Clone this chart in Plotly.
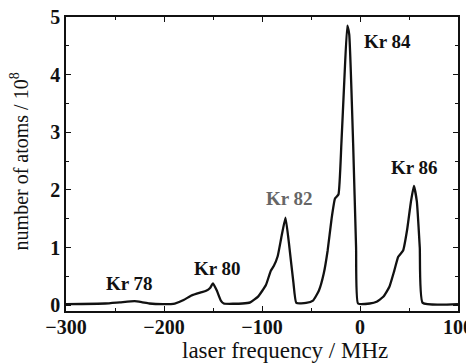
import plotly.graph_objects as go

freq = [-300, -260, -245, -230, -222, -215, -200, -189, -180, -172, -163, -157, -153, -150,
        -146, -142, -139, -120, -112, -104, -96, -91, -88, -84, -80, -76, -72, -68, -65,
        -55, -48, -42, -37, -33, -29, -25.5, -22, -19, -16, -13, -11, -7, -4, -2,
        10, 17, 24, 30, 35, 39, 44, 48, 52, 55, 58, 61, 64, 100]
atoms = [0.02, 0.03, 0.05, 0.07, 0.05, 0.03, 0.02, 0.03, 0.09, 0.17, 0.22, 0.25, 0.3, 0.38,
         0.25, 0.08, 0.03, 0.03, 0.05, 0.15, 0.35, 0.6, 0.68, 0.85, 1.2, 1.52, 1.0, 0.4, 0.04,
         0.04, 0.08, 0.25, 0.55, 0.95, 1.5, 1.85, 1.92, 2.8, 3.9, 4.85, 4.7, 2.8, 1.0, 0.03,
         0.03, 0.06, 0.15, 0.32, 0.6, 0.84, 0.95, 1.3, 1.8, 2.07, 1.8, 1.0, 0.04, 0.02]

label_text = ["Kr 78", "Kr 80", "Kr 82", "Kr 84", "Kr 86"]
label_x = [-234.7, -145.3, -72.4, 27.6, 55.1]
label_y = [0.38, 0.64, 1.86, 4.57, 2.39]
label_color = ["#111", "#111", "#666", "#111", "#111"]

x_ticks = [-300, -200, -100, 0, 100]
y_ticks = [0, 1, 2, 3, 4, 5]

x_title = "laser frequency / MHz"
y_title = "number of atoms / 10<sup>8</sup>"

serif = "Liberation Serif"

fig = go.Figure()
fig.add_trace(go.Scatter(x=freq, y=atoms, mode="lines",
                         line=dict(color="#111", width=2.3, shape="spline", smoothing=0.4),
                         showlegend=False, hoverinfo="skip"))

for t, x, y, c in zip(label_text, label_x, label_y, label_color):
    fig.add_annotation(x=x, y=y, text=t, showarrow=False,
                       font=dict(family=serif, size=19, color=c, weight="bold"))

fig.add_annotation(xref="paper", yref="paper", x=0.559, y=-0.136, text=x_title,
                   showarrow=False, xanchor="center", yanchor="middle",
                   font=dict(family=serif, size=23, color="#111"))
fig.add_annotation(xref="paper", yref="paper", x=-0.119, y=0.51, text=y_title,
                   showarrow=False, xanchor="center", yanchor="middle", textangle=-90,
                   font=dict(family=serif, size=20, color="#111"))

axis_common = dict(showline=True, linecolor="#111", linewidth=1.5, mirror="allticks",
                   ticks="inside", ticklen=5, tickwidth=1.2, tickcolor="#111",
                   showgrid=False, zeroline=False, automargin=False,
                   ticklabeloverflow="allow",
                   tickfont=dict(family=serif, size=20, color="#111", weight="bold"))

fig.update_xaxes(range=[-300, 100], tickvals=x_ticks, ticklabelstandoff=-3,
                 minor=dict(dtick=50, ticks="inside", ticklen=3, tickcolor="#111", showgrid=False),
                 **axis_common)
fig.update_yaxes(range=[-0.1, 5], tickvals=y_ticks, ticklabelstandoff=0,
                 minor=dict(dtick=0.5, ticks="inside", ticklen=3, tickcolor="#111", showgrid=False),
                 **axis_common)

# page body has an 8px default margin, so the figure is sized to fill the rest of the window
fig.update_layout(width=466, height=356, margin=dict(l=58, r=16, t=9, b=53),
                  paper_bgcolor="white", plot_bgcolor="white")

fig.write_html("out.html")
